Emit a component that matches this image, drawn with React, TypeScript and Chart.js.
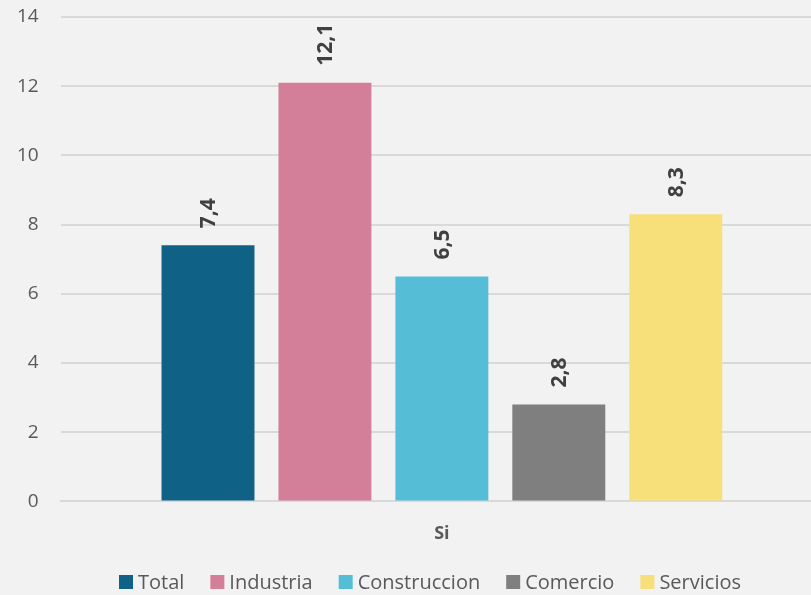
import React, { useEffect, useRef } from "react";
import { Chart, registerables } from "chart.js";

Chart.register(...registerables);

const categories = ["Si"];
const seriesNames = ["Total", "Industria", "Construccion", "Comercio", "Servicios"];
const seriesValues = [[7.4], [12.1], [6.5], [2.8], [8.3]];
const seriesColors = ["#0F6286", "#D47F99", "#55BED6", "#7F7F7F", "#F7DF79"];
const yTicks = [0, 2, 4, 6, 8, 10, 12, 14];

const FONT = "'Open Sans', 'Noto Sans', sans-serif";

const labelPlugin = {
  id: "barLabels",
  afterDatasetsDraw(chart: any) {
    const ctx = chart.ctx;
    chart.data.datasets.forEach((ds: any, i: number) => {
      const meta = chart.getDatasetMeta(i);
      meta.data.forEach((bar: any, j: number) => {
        const v = ds.data[j];
        const text = v.toFixed(1).replace(".", ",");
        ctx.save();
        ctx.translate(bar.x + 1, bar.y - 17);
        ctx.rotate(-Math.PI / 2);
        ctx.font = `bold 21px ${FONT}`;
        ctx.fillStyle = "#404040";
        ctx.textAlign = "left";
        ctx.textBaseline = "middle";
        ctx.fillText(text, 0, 0);
        ctx.restore();
      });
    });
  },
};

const legendPlugin = {
  id: "customLegend",
  afterDraw(chart: any) {
    const ctx = chart.ctx;
    ctx.save();
    ctx.font = `20px ${FONT}`;
    const box = 14;
    const gapText = 5;
    const gapItem = 26;
    const widths = seriesNames.map((n) => ctx.measureText(n).width);
    const total =
      widths.reduce((a, w) => a + box + gapText + w, 0) + gapItem * (seriesNames.length - 1);
    let x = 430 - total / 2;
    const y = 582;
    seriesNames.forEach((n, i) => {
      ctx.fillStyle = seriesColors[i];
      ctx.fillRect(x, y - box / 2, box, box);
      ctx.fillStyle = "#595959";
      ctx.textAlign = "left";
      ctx.textBaseline = "middle";
      ctx.fillText(n, x + box + gapText, y + 1);
      x += box + gapText + widths[i] + gapItem;
    });
    ctx.restore();
  },
};

export default function App() {
  const ref = useRef<HTMLCanvasElement>(null);
  useEffect(() => {
    document.body.style.margin = "0";
    const chart = new Chart(ref.current!, {
      type: "bar",
      data: {
        labels: categories,
        datasets: seriesNames.map((n, i) => ({
          label: n,
          data: seriesValues[i],
          backgroundColor: seriesColors[i],
          barPercentage: 0.795,
          categoryPercentage: 0.767,
        })),
      },
      options: {
        animation: false,
        responsive: false,
        maintainAspectRatio: false,
        layout: { padding: { top: 17, left: 0, right: 0, bottom: 36 } },
        scales: {
          x: {
            grid: { display: false },
            border: { color: "#D9D9D9", width: 2 },
            ticks: { color: "#595959", font: { family: FONT, size: 18, weight: "bold" }, padding: 14 },
          },
          y: {
            min: 0,
            max: 14,
            afterBuildTicks: (axis: any) => {
              axis.ticks = yTicks.map((v) => ({ value: v }));
            },
            afterFit: (axis: any) => {
              axis.paddingTop = 10;
              axis.paddingBottom = 10;
              axis.width -= 5;
            },
            grid: { color: "#D9D9D9", lineWidth: 2, drawTicks: false },
            border: { display: false },
            ticks: { color: "#595959", font: { family: FONT, size: 19 }, padding: 22 },
          },
        },
        plugins: {
          legend: { display: false },
          tooltip: { enabled: false },
        },
      },
      plugins: [labelPlugin, legendPlugin, {
        id: "bg",
        beforeDraw(c: any) {
          c.ctx.save();
          c.ctx.fillStyle = "#F2F2F2";
          c.ctx.fillRect(0, 0, c.width, c.height);
          c.ctx.restore();
        },
      }],
    } as any);
    return () => chart.destroy();
  }, []);
  return (
    <div style={{ width: 811, height: 595, background: "#F2F2F2", overflow: "hidden" }}>
      <canvas ref={ref} width={823} height={595} style={{ display: "block" }} />
    </div>
  );
}
